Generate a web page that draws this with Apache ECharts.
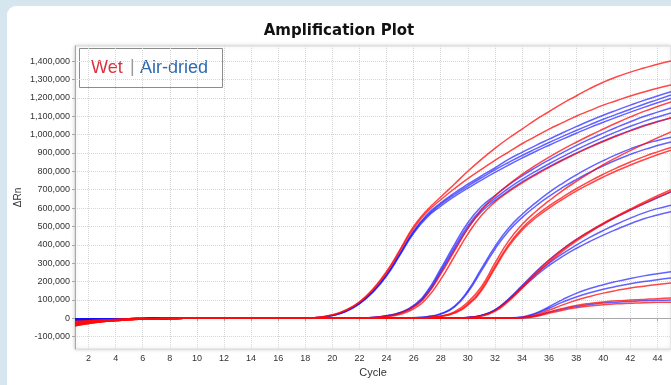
<!DOCTYPE html>
<html>
<head>
<meta charset="utf-8">
<script src="https://cdn.jsdelivr.net/npm/echarts@6/dist/echarts.min.js"></script>
<style>
  html, body { margin: 0; padding: 0; background: #d5e6ee; overflow: hidden; }
  #card { position: absolute; left: 7px; top: 6px; width: 720px; height: 420px; background: #fff; border-radius: 9px; }
  #main { position: absolute; left: 0; top: 0; width: 671px; height: 385px; }
</style>
</head>
<body>
<div id="card"></div>
<div id="main"></div>
<script>
  // cycle numbers on the x axis
  var cycles = [1, 2, 3, 4, 5, 6, 7, 8, 9, 10, 11, 12, 13, 14, 15, 16, 17, 18, 19, 20, 21, 22, 23,
    24, 25, 26, 27, 28, 29, 30, 31, 32, 33, 34, 35, 36, 37, 38, 39, 40, 41, 42, 43, 44, 45];
  var yTicks = [-100000, 0, 100000, 200000, 300000, 400000, 500000, 600000, 700000, 800000,
    900000, 1000000, 1100000, 1200000, 1300000, 1400000];

  // ΔRn per cycle, in thousands
  // wet samples
  var wet1 = [-40,-28,-19,-13,-8,-5,-3,-1,0,1,2,1,1,0,0,0,0,2,6,19,45,90,160,255,375,500,590,660,730,800,865,925,980,1030,1080,1125,1170,1210,1250,1285,1315,1340,1362,1383,1400];
  var wet2 = [-32,-23,-16,-10,-7,-4,-2,-1,0,1,1,1,0,0,0,0,0,2,6,18,43,87,155,248,368,490,580,645,705,760,810,860,905,950,990,1030,1065,1100,1130,1160,1185,1210,1232,1252,1270];
  var wet3 = [-25,-18,-12,-8,-5,-3,-2,-1,0,1,1,1,0,0,0,0,0,0,0,0,0,2,5,12,28,63,130,240,365,488,590,665,728,783,832,877,919,958,995,1030,1064,1096,1126,1153,1178];
  var wet4 = [-40,-28,-19,-13,-8,-5,-3,-1,0,1,2,1,1,0,0,0,0,0,0,0,0,1,3,9,22,52,112,212,335,458,560,632,688,736,780,821,860,896,930,962,992,1020,1046,1069,1090];
  var wet5 = [-32,-23,-16,-10,-7,-4,-2,-1,0,1,1,1,0,0,0,0,0,0,0,0,0,0,0,0,0,1,4,13,35,88,172,300,420,510,580,640,695,745,792,836,876,913,948,982,1015];
  var wet6 = [-25,-18,-12,-8,-5,-3,-2,-1,0,1,1,1,0,0,0,0,0,0,0,0,0,0,0,0,0,1,3,11,30,78,158,282,400,490,557,612,660,705,746,784,819,851,880,906,930];
  var wet7 = [-18,-13,-9,-6,-4,-3,-2,-1,0,0,1,1,0,0,0,0,0,0,0,0,0,0,0,0,0,1,3,10,28,72,150,272,390,480,546,600,648,692,732,769,803,834,863,890,915];
  var wet8 = [-40,-28,-19,-13,-8,-5,-3,-1,0,1,2,1,1,0,0,0,0,0,0,0,0,0,0,0,0,0,0,0,1,4,14,42,100,172,248,315,375,428,475,518,557,595,632,667,700];
  var wet9 = [-32,-23,-16,-10,-7,-4,-2,-1,0,1,1,1,0,0,0,0,0,0,0,0,0,0,0,0,0,0,0,0,1,3,12,38,92,163,238,305,366,420,468,512,553,590,625,658,690];
  var wet10 = [-25,-18,-12,-8,-5,-3,-2,-1,0,1,1,1,0,0,0,0,0,0,0,0,0,0,0,0,0,0,0,0,0,0,0,0,1,4,18,45,73,98,119,137,152,165,175,184,192];
  var wet11 = [-18,-13,-9,-6,-4,-3,-2,-1,0,0,1,1,0,0,0,0,0,0,0,0,0,0,0,0,0,0,0,0,0,0,0,0,1,3,14,35,54,70,81,89,95,99,103,107,110];
  var wet12 = [-32,-23,-16,-10,-7,-4,-2,-1,0,1,1,1,0,0,0,0,0,0,0,0,0,0,0,0,0,0,0,0,0,0,0,0,0,2,10,28,44,57,67,74,79,82,85,87,88];
  // air-dried samples
  var air1 = [-8,-6,-5,-4,-3,-2,-1,0,0,1,1,1,0,0,0,0,0,2,5,16,40,82,148,238,355,475,565,628,682,730,775,818,865,903,940,975,1010,1043,1075,1105,1133,1160,1186,1210,1233];
  var air2 = [-4,-4,-3,-2,-2,-1,-1,0,0,1,1,0,0,0,0,0,0,2,5,15,38,80,145,234,350,470,558,620,673,720,765,808,848,886,922,957,990,1022,1053,1083,1111,1138,1165,1190,1215];
  var air3 = [-8,-6,-5,-4,-3,-2,-1,0,0,1,1,1,0,0,0,0,0,2,5,15,37,78,142,230,345,463,550,610,662,708,752,794,834,872,908,942,975,1007,1038,1067,1095,1122,1148,1173,1197];
  var air4 = [-4,-4,-3,-2,-2,-1,-1,0,0,1,1,0,0,0,0,0,0,0,0,0,0,2,5,14,32,70,148,270,400,520,608,668,725,775,820,862,902,940,975,1008,1040,1070,1098,1122,1145];
  var air5 = [-8,-6,-5,-4,-3,-2,-1,0,0,1,1,1,0,0,0,0,0,0,0,0,0,2,5,13,30,66,140,258,385,503,592,652,707,756,800,841,880,917,952,985,1016,1045,1072,1096,1118];
  var air6 = [-4,-4,-3,-2,-2,-1,-1,0,0,1,1,0,0,0,0,0,0,0,0,0,0,2,4,12,28,62,132,248,372,490,580,640,694,742,785,825,863,899,933,965,995,1023,1049,1071,1092];
  var air7 = [-8,-6,-5,-4,-3,-2,-1,0,0,1,1,1,0,0,0,0,0,0,0,0,0,0,0,0,0,3,9,25,65,150,270,390,490,565,628,685,735,780,821,858,892,922,948,968,985];
  var air8 = [-4,-4,-3,-2,-2,-1,-1,0,0,1,1,0,0,0,0,0,0,0,0,0,0,0,0,0,0,3,8,23,60,142,258,376,474,548,610,664,712,755,794,830,863,892,918,940,960];
  var air9 = [-8,-6,-5,-4,-3,-2,-1,0,0,1,1,1,0,0,0,0,0,0,0,0,0,0,0,0,0,0,0,0,1,5,16,46,105,178,252,318,377,428,473,514,552,588,623,656,688];
  var air10 = [-4,-4,-3,-2,-2,-1,-1,0,0,1,1,0,0,0,0,0,0,0,0,0,0,0,0,0,0,0,0,0,1,5,16,45,102,172,240,300,352,398,440,478,513,545,574,597,616];
  var air11 = [-8,-6,-5,-4,-3,-2,-1,0,0,1,1,1,0,0,0,0,0,0,0,0,0,0,0,0,0,0,0,0,1,4,15,43,98,165,230,288,337,380,418,453,485,515,542,562,580];
  var air12 = [-4,-4,-3,-2,-2,-1,-1,0,0,1,1,0,0,0,0,0,0,0,0,0,0,0,0,0,0,0,0,0,0,0,0,1,2,7,28,63,102,136,162,183,201,217,231,243,254];
  var air13 = [-8,-6,-5,-4,-3,-2,-1,0,0,1,1,1,0,0,0,0,0,0,0,0,0,0,0,0,0,0,0,0,0,0,0,1,2,6,24,55,88,116,139,158,174,188,200,210,219];
  var air14 = [-4,-4,-3,-2,-2,-1,-1,0,0,1,1,0,0,0,0,0,0,0,0,0,0,0,0,0,0,0,0,0,0,0,0,0,1,3,13,33,50,64,75,83,88,92,95,98,100];

  var wetCurves = [wet1, wet2, wet3, wet4, wet5, wet6, wet7, wet8, wet9, wet10, wet11, wet12];
  var airCurves = [air1, air2, air3, air4, air5, air6, air7, air8, air9, air10, air11, air12, air13, air14];

  var RED = 'rgba(255,10,10,0.75)';
  var BLUE = 'rgba(15,15,255,0.65)';

  function lineSeries(vals, color) {
    return {
      type: 'line',
      data: vals.map(function (v) { return v * 1000 }),
      smooth: true,
      showSymbol: false,
      symbol: 'none',
      silent: true,
      lineStyle: { color: color, width: 1.5 }
    }
  }

  var series = []
  airCurves.forEach(function (d) { series.push(lineSeries(d, BLUE)) })
  wetCurves.forEach(function (d) { series.push(lineSeries(d, RED)) })

  var evenCycle = function (index, value) { return Number(value) % 2 === 0 }

  var chart = echarts.init(document.getElementById('main'))
  chart.setOption({
    animation: false,
    textStyle: { fontFamily: 'Liberation Sans, Arial, sans-serif' },
    grid: {
      left: 75, top: 46, right: 0, bottom: 36,
      show: true, backgroundColor: '#fff', borderWidth: 1, borderColor: '#d9d9d9',
      shadowColor: 'rgba(0,0,0,0.18)', shadowBlur: 4
    },
    graphic: [
      {
        type: 'text', x: 339, y: 24,
        style: { text: 'Amplification Plot', font: 'bold 15px "DejaVu Sans", Verdana, sans-serif', fill: '#111', textAlign: 'center' }
      },
      {
        type: 'rect', shape: { x: 79.5, y: 48.5, width: 143, height: 39 },
        style: { fill: '#fff', stroke: '#8c8c8c', lineWidth: 1 }
      },
      { type: 'text', x: 91, y: 68, style: { text: 'Wet', font: '18px "Liberation Sans", Arial, sans-serif', fill: '#d8343f', textVerticalAlign: 'middle' } },
      { type: 'text', x: 130, y: 67, style: { text: '|', font: '18px "Liberation Sans", Arial, sans-serif', fill: '#9a9a9a', textVerticalAlign: 'middle' } },
      { type: 'text', x: 140, y: 68, style: { text: 'Air-dried', font: '18px "Liberation Sans", Arial, sans-serif', fill: '#2c6bb0', textVerticalAlign: 'middle' } }
    ],
    xAxis: {
      type: 'category',
      data: cycles,
      boundaryGap: false,
      name: 'Cycle',
      nameLocation: 'middle',
      nameGap: 18,
      nameTextStyle: { fontSize: 11, color: '#333' },
      axisLine: { lineStyle: { color: '#a8a8a8' } },
      axisTick: { show: true, interval: evenCycle, length: 3, lineStyle: { color: '#a8a8a8' } },
      axisLabel: { interval: evenCycle, fontSize: 9, color: '#333', margin: 5 },
      splitLine: { show: true, interval: evenCycle, lineStyle: { type: 'dotted', color: '#d6d6d6' } }
    },
    yAxis: {
      type: 'value',
      min: -167000,
      max: 1482000,
      name: 'ΔRn',
      nameLocation: 'middle',
      nameGap: 52,
      nameMoveOverlap: false,
      nameTextStyle: { fontSize: 10, color: '#333' },
      axisLine: { show: true, lineStyle: { color: '#a8a8a8' } },
      axisTick: { show: true, customValues: yTicks, length: 3, lineStyle: { color: '#a8a8a8' } },
      axisLabel: {
        customValues: yTicks, fontSize: 9, color: '#333', margin: 5,
        formatter: function (v) { return Number(v).toLocaleString('en-US') }
      },
      splitLine: { show: true, lineStyle: { type: 'dotted', color: '#d6d6d6' } }
    },
    series: series
  })
</script>
</body>
</html>
